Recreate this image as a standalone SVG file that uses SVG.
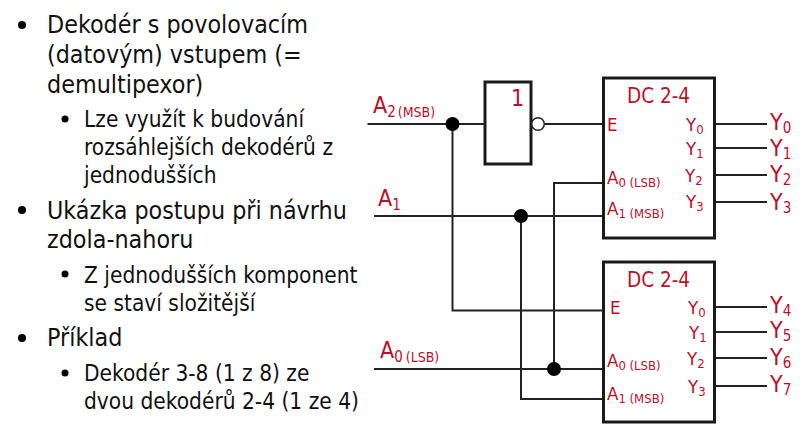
<svg xmlns="http://www.w3.org/2000/svg" width="804" height="444" viewBox="0 0 804 444">
<style>
text{font-family:"DejaVu Sans","Liberation Sans",sans-serif;font-stretch:condensed}
.l1{font-size:24.800px;fill:#111}
.l2{font-size:22.500px;fill:#111}
.r{fill:#c00d28}
.big{font-size:20.500px}
.out{font-size:23px}
.mid{font-size:18.500px}
.sub{font-size:13px}
.sub2{font-size:15px}
.box{fill:#fff;stroke:#1a1a1a;stroke-width:3}
.w{fill:none;stroke:#222;stroke-width:2}
.dot{fill:#000}
</style>
<rect width="804" height="444" fill="#fff"/>
<g id="bullets">
<circle cx="22" cy="25" r="4" fill="#000"/><circle cx="65" cy="119" r="3.500" fill="#000"/><circle cx="22" cy="210" r="4" fill="#000"/><circle cx="65" cy="274" r="3.500" fill="#000"/><circle cx="22" cy="338" r="4" fill="#000"/><circle cx="65" cy="373" r="3.500" fill="#000"/>
<text class="l1" x="47" y="33">Dekodér s povolovacím</text>
<text class="l1" x="47" y="63">(datovým) vstupem (=</text>
<text class="l1" x="47" y="93">demultipexor)</text>
<text class="l2" x="84" y="127">Lze využít k budování</text>
<text class="l2" x="84" y="155">rozsáhlejších dekodérů z</text>
<text class="l2" x="84" y="183">jednodušších</text>
<text class="l1" x="47" y="219">Ukázka postupu při návrhu</text>
<text class="l1" x="47" y="248">zdola-nahoru</text>
<text class="l2" x="84" y="283">Z jednodušších komponent</text>
<text class="l2" x="84" y="311">se staví složitější</text>
<text class="l1" x="47" y="346">Příklad</text>
<text class="l2" x="84" y="381">Dekodér 3-8 (1 z 8) ze</text>
<text class="l2" x="84" y="409">dvou dekodérů 2-4 (1 ze 4)</text>
</g>
<g id="connectors">
<path class="w" d="M367.500 124H485M544.500 124H603M452.500 124V310.500H603M374 216H603M521 216V399H603M554 369V183H603M374 369H603"/>
<path class="w" d="M715 124H767M715 148H767M715 175H767M715 202H767M715 307H767M715 332H767M715 358H767M715 386H767"/>
<circle class="dot" cx="452.500" cy="124" r="7"/><circle class="dot" cx="521" cy="216" r="7"/><circle class="dot" cx="554" cy="369" r="7"/>
</g>
<g id="not-gate">
<rect class="box" x="485" y="82" width="46" height="82"/>
<circle cx="538" cy="124" r="6.300" fill="#fff" stroke="#222" stroke-width="1.500"/>
<text class="r out" x="511" y="106">1</text>
</g>
<g id="dc-top">
<rect class="box" x="603.500" y="78" width="111" height="160"/>
<text class="r big" x="627" y="103">DC 2-4</text>
<text class="r mid" x="607" y="131">E</text>
<text class="r mid" x="607" y="184">A<tspan class="sub" dy="3">0 (LSB)</tspan></text>
<text class="r mid" x="607" y="215">A<tspan class="sub" dy="3">1 (MSB)</tspan></text>
<text class="r mid" x="686" y="131">Y<tspan class="sub" dy="3">0</tspan></text>
<text class="r mid" x="686" y="155">Y<tspan class="sub" dy="3">1</tspan></text>
<text class="r mid" x="685" y="182">Y<tspan class="sub" dy="3">2</tspan></text>
<text class="r mid" x="686" y="208">Y<tspan class="sub" dy="3">3</tspan></text>
</g>
<g id="dc-bottom">
<rect class="box" x="603.500" y="262" width="111" height="160"/>
<text class="r big" x="627" y="287">DC 2-4</text>
<text class="r mid" x="610" y="314">E</text>
<text class="r mid" x="607" y="367">A<tspan class="sub" dy="3">0 (LSB)</tspan></text>
<text class="r mid" x="607" y="400">A<tspan class="sub" dy="3">1 (MSB)</tspan></text>
<text class="r mid" x="688" y="314">Y<tspan class="sub" dy="3">0</tspan></text>
<text class="r mid" x="689" y="339">Y<tspan class="sub" dy="3">1</tspan></text>
<text class="r mid" x="687" y="365">Y<tspan class="sub" dy="3">2</tspan></text>
<text class="r mid" x="688" y="393">Y<tspan class="sub" dy="3">3</tspan></text>
</g>
<g id="labels">
<text class="r out" x="373" y="113">A<tspan class="sub2" dy="4">2</tspan><tspan font-size="14" dx="2">(MSB)</tspan></text>
<text class="r out" x="378" y="206">A<tspan class="sub2" dy="4">1</tspan></text>
<text class="r out" x="380" y="358">A<tspan class="sub2" dy="4">0</tspan><tspan font-size="14" dx="3">(LSB)</tspan></text>
<text class="r out" x="770" y="130">Y<tspan class="sub2" dy="3">0</tspan></text>
<text class="r out" x="770" y="156">Y<tspan class="sub2" dy="3">1</tspan></text>
<text class="r out" x="770" y="182">Y<tspan class="sub2" dy="3">2</tspan></text>
<text class="r out" x="770" y="210">Y<tspan class="sub2" dy="3">3</tspan></text>
<text class="r out" x="770" y="313">Y<tspan class="sub2" dy="3">4</tspan></text>
<text class="r out" x="770" y="338">Y<tspan class="sub2" dy="3">5</tspan></text>
<text class="r out" x="770" y="365">Y<tspan class="sub2" dy="3">6</tspan></text>
<text class="r out" x="770" y="392">Y<tspan class="sub2" dy="3">7</tspan></text>
</g>
</svg>
